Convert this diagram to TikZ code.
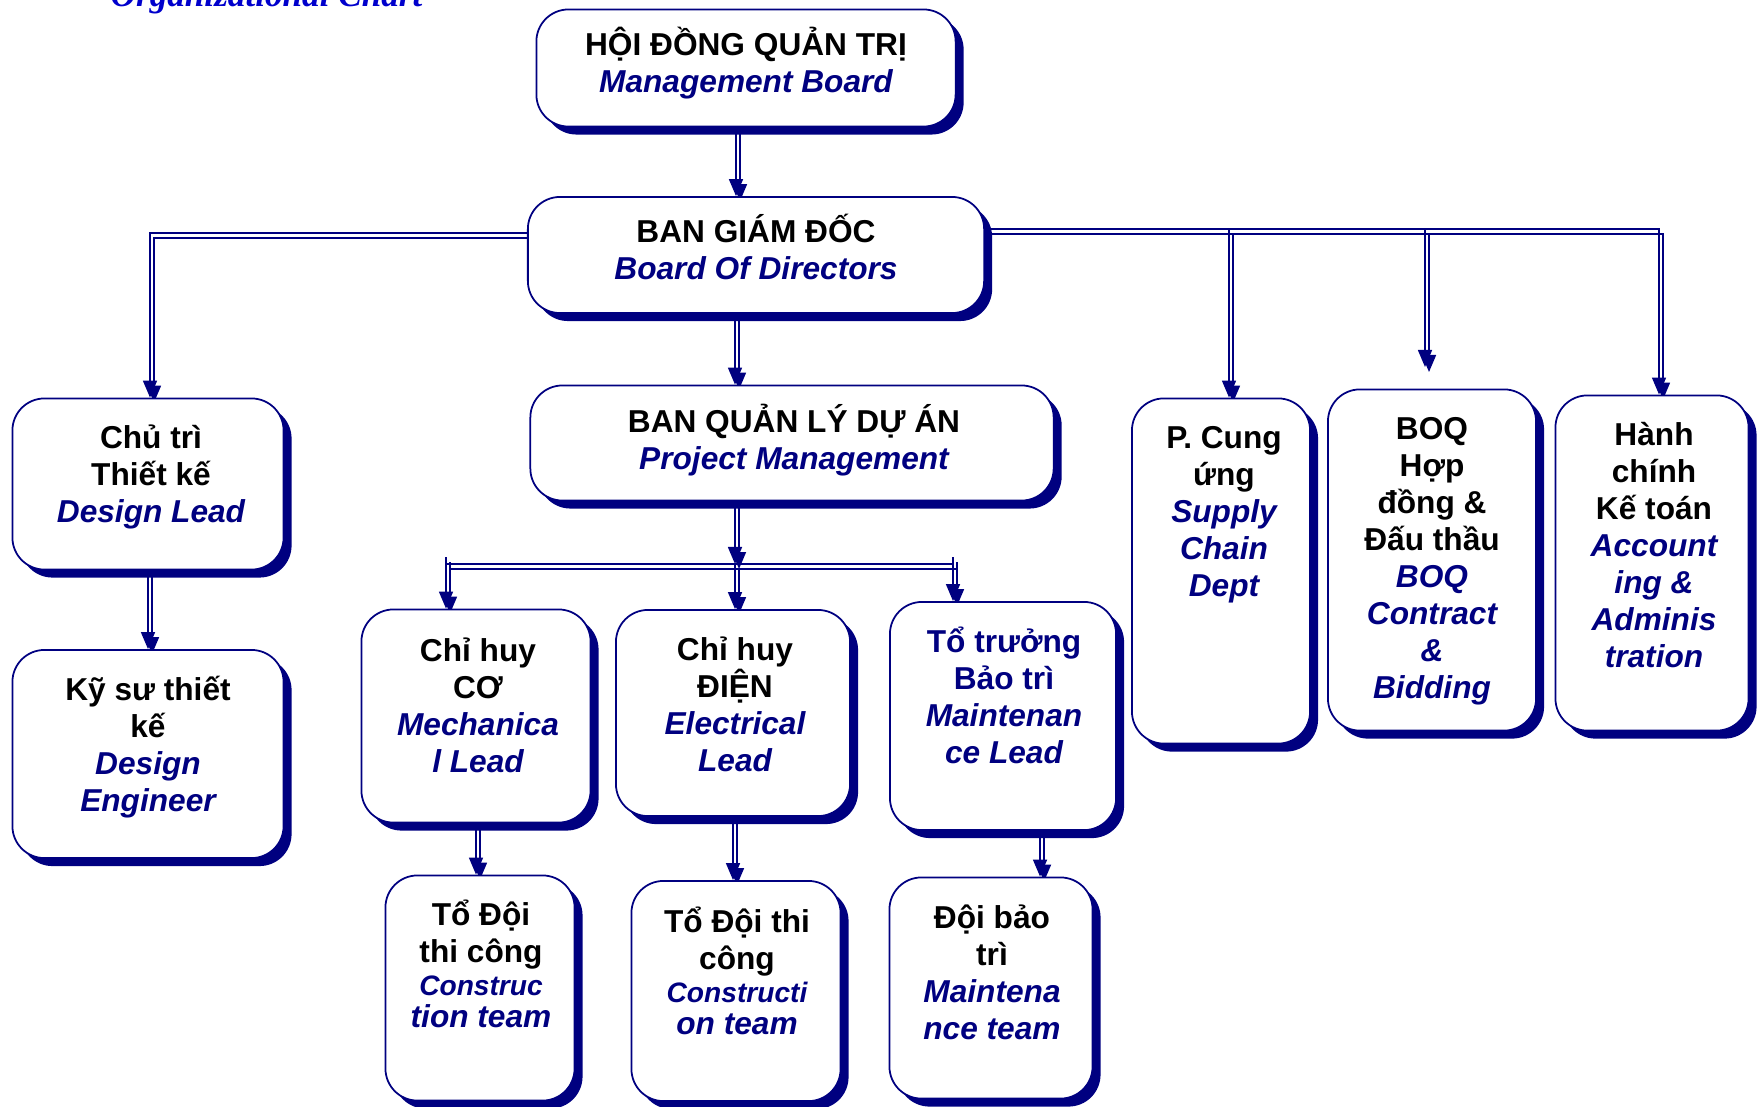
\documentclass[tikz,border=0pt]{standalone}
\usepackage{fontspec}
\setmainfont{Liberation Sans}
\newfontfamily\titlefont{Liberation Serif}
\usetikzlibrary{arrows.meta,shadows,backgrounds}

\definecolor{navy}{RGB}{0,0,128}
\definecolor{titleblue}{RGB}{0,0,204}
\newcommand{\eng}[1]{\textcolor{navy}{\itshape #1}}

\tikzset{
  box/.style={draw=navy, line width=0.5pt, rounded corners=0.32cm, fill=white,
    drop shadow={shadow xshift=0.08cm, shadow yshift=-0.08cm, fill=navy, opacity=1}},
  txt/.style={align=center, inner sep=0pt, font=\bfseries\fontsize{9}{10.5}\selectfont},
  bus/.style={draw=navy, line width=0.45pt,
    preaction={draw=navy, line width=0.45pt, transform canvas={shift={(0.04cm,-0.05cm)}}}},
  link/.style={draw=navy, line width=0.45pt, -{Triangle[width=0.14cm, length=0.17cm]},
    preaction={draw=navy, line width=0.45pt, -{Triangle[width=0.14cm, length=0.17cm]},
      transform canvas={shift={(0.04cm,-0.05cm)}}}}
}

\begin{document}
\begin{tikzpicture}[x=0.01cm, y=-0.01cm]
        \useasboundingbox (0,0) rectangle (1758,1106);

        %%%%%%%%%% Title %%%%%%%%%%
        \node[font=\titlefont\bfseries\itshape\fontsize{10}{12}\selectfont, text=titleblue,
          anchor=base west, inner sep=0pt] (title) at (110,7) {Organizational Chart};

        %%%%%%%%%% Boxes %%%%%%%%%%
        \node[box, minimum width=4.19cm, minimum height=1.17cm] (mb) at (746,68) {};
        \node[box, minimum width=4.56cm, minimum height=1.16cm] (bod) at (756,255) {};
        \node[box, minimum width=5.23cm, minimum height=1.15cm] (pm) at (792,443) {};
        \node[box, minimum width=2.71cm, minimum height=1.71cm] (dl) at (148,484) {};
        \node[box, minimum width=2.71cm, minimum height=2.08cm] (ks) at (148,754) {};
        \node[box, minimum width=2.29cm, minimum height=2.13cm] (mech) at (476,716) {};
        \node[box, minimum width=2.34cm, minimum height=2.06cm] (elec) at (733,713) {};
        \node[box, minimum width=2.26cm, minimum height=2.28cm] (mlead) at (1003,716) {};
        \node[box, minimum width=1.89cm, minimum height=2.25cm] (con1) at (480,988) {};
        \node[box, minimum width=2.09cm, minimum height=2.20cm] (con2) at (736,991) {};
        \node[box, minimum width=2.03cm, minimum height=2.21cm] (mteam) at (991,988) {};
        \node[box, minimum width=1.78cm, minimum height=3.45cm] (sup) at (1221,571) {};
        \node[box, minimum width=2.08cm, minimum height=3.41cm] (boq) at (1432,560) {};
        \node[box, minimum width=1.93cm, minimum height=3.35cm] (hc) at (1652,563) {};

        %%%%%%%%%% Texts %%%%%%%%%%
        \node[txt] (mbt) at (746,63) {HỘI ĐỒNG QUẢN TRỊ\\\eng{Management Board}};
        \node[txt] (bodt) at (756,247) {BAN GIÁM ĐỐC\\\eng{Board Of Directors}};
        \node[txt] (pmt) at (794,440) {BAN QUẢN LÝ DỰ ÁN\\\eng{Project Management}};
        \node[txt] (dlt) at (151,477) {Chủ trì\\Thiết kế\\\eng{Design Lead}};
        \node[txt] (kst) at (148,747) {Kỹ sư thiết\\kế\\\eng{Design}\\\eng{Engineer}};
        \node[txt] (mecht) at (478,705) {Chỉ huy\\CƠ\\\eng{Mechanica}\\\eng{l Lead}};
        \node[txt] (elect) at (735,704) {Chỉ huy\\ĐIỆN\\\eng{Electrical}\\\eng{Lead}};
        \node[txt] (mleadt) at (1004,695) {\textcolor{navy}{Tổ trưởng}\\\textcolor{navy}{Bảo trì}\\\eng{Maintenan}\\\eng{ce Lead}};
        \node[txt] (con1t) at (481,964) {Tổ Đội\\thi công\\[-1pt]\fontsize{8}{9}\selectfont\eng{Construc}\\[-1.5pt]\eng{tion team}};
        \node[txt] (con2t) at (737,971) {Tổ Đội thi\\công\\[-1pt]\fontsize{8}{9}\selectfont\eng{Constructi}\\[-1.5pt]\eng{on team}};
        \node[txt] (mteamt) at (992,972) {Đội bảo\\trì\\\eng{Maintena}\\\eng{nce team}};
        \node[txt] (supt) at (1224,515) {P. Cung\\ứng\\\eng{Supply}\\\eng{Chain}\\\eng{Dept}};
        \node[txt] (boqt) at (1432,561) {BOQ\\Hợp\\đồng \&\\Đấu thầu\\\eng{BOQ}\\\eng{Contract}\\\eng{\&}\\\eng{Bidding}};
        \node[txt] (hct) at (1654,545) {Hành\\chính\\Kế toán\\\eng{Account}\\\eng{ing \&}\\\eng{Adminis}\\\eng{tration}};

        %%%%%%%%%% Links %%%%%%%%%%
        \coordinate (lbus) at (150,233);
        \coordinate (rbus) at (1659,229);
        \coordinate (supdrop) at (1229,229);
        \coordinate (boqdrop) at (1425,229);
        \coordinate (boqtip) at (1425,367);
        \coordinate (pmjoin) at (735,564);
        \coordinate (busl) at (446,564);
        \coordinate (busr) at (953,564);

        \begin{pgfonlayer}{background}
        \draw[link] ([xshift=-0.1cm]mb.south) -- ([xshift=-0.1cm]mb.south |- bod.north);
        \draw[link] (bod.south -| pmjoin) -- (pm.north -| pmjoin);
        \draw[link] (bod.west |- lbus) -- (lbus) -- (lbus |- dl.north);
        \draw[link] (dl.south) -- (dl.south |- ks.north);
        \draw[link] (bod.east |- rbus) -- (rbus) -- (rbus |- hc.north);
        \draw[link] (supdrop) -- (supdrop |- sup.north);
        \draw[link] (boqdrop) -- (boqtip);
        \draw[link] (pm.south -| pmjoin) -- (pmjoin);
        \draw[bus] (busl) -- (busr);
        \draw[link] ([yshift=0.07cm]busl) -- (busl |- mech.north);
        \draw[link] (pmjoin) -- (pmjoin |- elec.north);
        \draw[link] ([yshift=0.07cm]busr) -- (busr |- mlead.north);
        \draw[link] (mech.south) -- (mech.south |- con1.north);
        \draw[link] (elec.south) -- (elec.south |- con2.north);
        \draw[link] ([xshift=0.37cm]mlead.south) -- ([xshift=0.37cm]mlead.south |- mteam.north);
        \end{pgfonlayer}
    \end{tikzpicture}
\end{document}
